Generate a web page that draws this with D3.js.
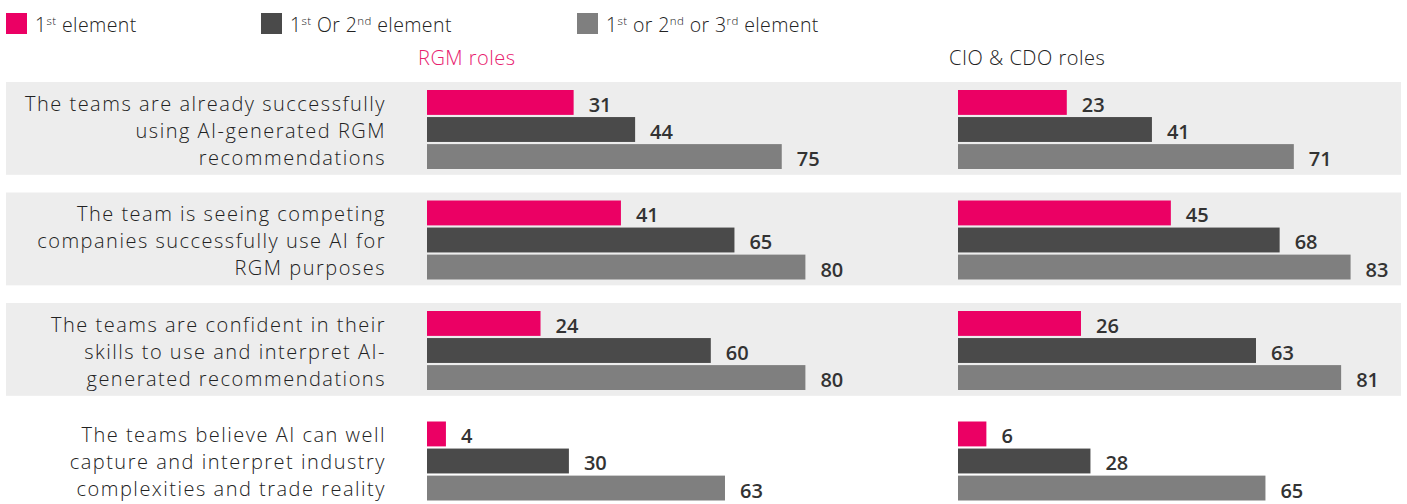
<!DOCTYPE html>
<html>
<head>
<meta charset="utf-8">
<script src="https://cdn.jsdelivr.net/npm/d3@7"></script>
<style>
  body { margin: 0; background: #fff; }
  svg { display: block; font-family: "Open Sans", Lato, sans-serif; }
  .cat { fill: #222; font-size: 20px; font-weight: 300; letter-spacing: 1.5px; }
  .val { fill: #333; font-size: 20px; font-weight: 600; }
  .leg { fill: #222; font-size: 19.5px; font-weight: 300; letter-spacing: 0.4px; }
  .title { font-size: 20px; font-weight: 300; letter-spacing: 0.5px; }
</style>
</head>
<body>
<svg id="chart" width="1407" height="504"></svg>
<script>
// categories (as wrapped in the picture)
const categories = [
  ["The teams are already successfully", "using AI-generated RGM", "recommendations"],
  ["The team is seeing competing", "companies successfully use AI for", "RGM purposes"],
  ["The teams are confident in their", "skills to use and interpret AI-", "generated recommendations"],
  ["The teams believe AI can well", "capture and interpret industry", "complexities and trade reality"]
];
const seriesKeys = ["first", "firstSecond", "top3"];
// legend text pieces: [text, superscript?]
const legendParts = [
  [["1", false], ["st", true], [" element", false]],
  [["1", false], ["st", true], [" Or 2", false], ["nd", true], [" element", false]],
  [["1", false], ["st", true], [" or 2", false], ["nd", true], [" or 3", false], ["rd", true], [" element", false]]
];
const panelTitles = ["RGM roles", "CIO & CDO roles"];

const rgmFirst = [31, 41, 24, 4];
const rgmFirstSecond = [44, 65, 60, 30];
const rgmTop3 = [75, 80, 80, 63];

const cioFirst = [23, 45, 26, 6];
const cioFirstSecond = [41, 68, 63, 28];
const cioTop3 = [71, 83, 81, 65];

const panels = [
  { title: panelTitles[0], x0: 427, color: "#e8206e", values: [rgmFirst, rgmFirstSecond, rgmTop3] },
  { title: panelTitles[1], x0: 958, color: "#222", values: [cioFirst, cioFirstSecond, cioTop3] }
];

const colors = d3.scaleOrdinal().domain(seriesKeys).range(["#eb0064", "#4a4a4a", "#7f7f7f"]);

const svg = d3.select("#chart");

// row bands
let rowY = d3.scaleBand()
  .domain(d3.range(categories.length))
  .range([82, 82 + 110.5 * (categories.length - 0.16)])
  .paddingInner(0.16);

let barY = d3.scaleBand()
  .domain(seriesKeys)
  .range([8, 87])
  .paddingInner(0.08);

// grey backgrounds (last row is left white)
svg.selectAll("rect.band")
  .data(d3.range(categories.length - 1))
  .enter().append("rect")
  .attr("class", "band")
  .attr("x", 6)
  .attr("width", 1395)
  .attr("y", d => rowY(d))
  .attr("height", rowY.bandwidth())
  .attr("fill", "#ededed");

// legend
let legX = [6, 261, 577];
let leg = svg.selectAll("g.legend")
  .data(seriesKeys)
  .enter().append("g")
  .attr("class", "legend")
  .attr("transform", (d, i) => "translate(" + legX[i] + ",13)");
leg.append("rect").attr("width", 21).attr("height", 21).attr("fill", d => colors(d));
leg.append("text")
  .attr("class", "leg")
  .attr("x", 29)
  .attr("y", 19)
  .each(function (d, i) {
    let t = d3.select(this);
    legendParts[i].forEach((p, j) => {
      let prevSup = j > 0 && legendParts[i][j - 1][1];
      t.append("tspan")
        .text(p[0])
        .attr("font-size", p[1] ? "11.5px" : null)
        .attr("dy", p[1] ? -7 : (prevSup ? 7 : null));
    });
  });

// category labels
svg.selectAll("text.cat")
  .data(categories)
  .enter().append("text")
  .attr("class", "cat")
  .attr("text-anchor", "end")
  .each(function (lines, i) {
    let cy = rowY(i) + 8 + 40;
    d3.select(this).selectAll("tspan")
      .data(lines)
      .enter().append("tspan")
      .attr("x", 386)
      .attr("y", (l, j) => cy + (j - 1) * 27)
      .attr("dominant-baseline", "central")
      .text(l => l);
  });

// panels
panels.forEach(p => {
  let x = d3.scaleLinear().domain([0, 100]).range([p.x0, p.x0 + 473]);

  svg.append("text")
    .attr("class", "title")
    .attr("x", p.x0 - 9)
    .attr("y", 65)
    .attr("fill", p.color)
    .text(p.title);

  seriesKeys.forEach((key, si) => {
    let vals = p.values[si];
    svg.selectAll(null)
      .data(vals)
      .enter().append("rect")
      .attr("x", x(0))
      .attr("y", (v, i) => rowY(i) + barY(key))
      .attr("width", v => x(v) - x(0))
      .attr("height", barY.bandwidth())
      .attr("fill", colors(key));

    svg.selectAll(null)
      .data(vals)
      .enter().append("text")
      .attr("class", "val")
      .attr("x", v => x(v) + 15)
      .attr("y", (v, i) => rowY(i) + barY(key) + barY.bandwidth() - 3)
      .text(v => v);
  });
});
</script>
</body>
</html>
